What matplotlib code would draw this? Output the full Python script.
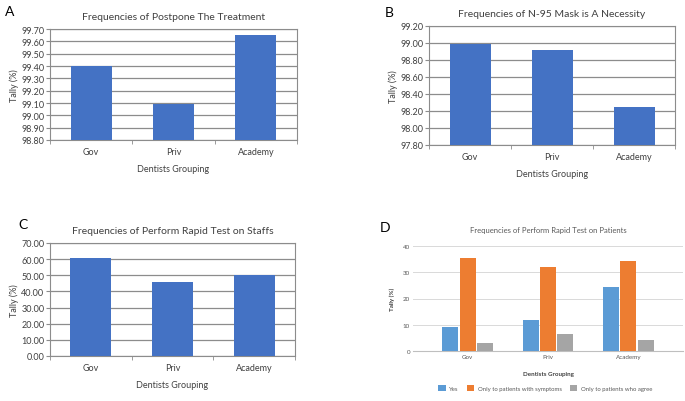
"""
Four panel bar charts: dentists grouping frequencies
"""
import numpy as np
import matplotlib.pyplot as plt

plt.rcParams['font.family'] = ['Lato', 'DejaVu Sans']

W, H = 685, 402
fig = plt.figure(figsize=(W/100, H/100), dpi=100)

groups = ['Gov', 'Priv', 'Academy']

postpone = [99.40, 99.095, 99.65]
mask = [98.99, 98.92, 98.25]
staff_test = [60.5, 46.0, 50.0]

patient_yes = [9.0, 11.7, 24.2]
patient_symptoms = [35.4, 32.0, 34.2]
patient_agree = [3.2, 6.6, 4.3]
patient_labels = ['Yes', 'Only to patients with symptoms', 'Only to patients who agree']

blue = '#4472C4'
grid_col = '#8c8c8c'
txt = '#404040'


def px_axes(x0, y0, x1, y1):
    # pixel box (left, top, right, bottom) -> axes
    return fig.add_axes([x0/W, 1 - y1/H, (x1-x0)/W, (y1-y0)/H])


def excel_bar(ax, vals, ylo, yhi, step, title):
    x = np.arange(len(groups))
    ax.bar(x, vals, width=0.5, color=blue, zorder=3)
    ax.set_xlim(-0.5, 2.5)
    ax.set_ylim(ylo, yhi)
    ax.set_yticks(np.arange(ylo, yhi + step/2, step))
    ax.set_yticklabels(['%.2f' % v for v in np.arange(ylo, yhi + step/2, step)])
    ax.set_xticks(x)
    ax.set_xticklabels(groups)
    ax.set_xticks([-0.5, 0.5, 1.5, 2.5], minor=True)
    ax.tick_params(axis='x', which='major', length=0, pad=5)
    ax.tick_params(axis='x', which='minor', length=3, color=grid_col)
    ax.tick_params(axis='y', length=3, color=grid_col, pad=1)
    ax.tick_params(labelsize=6.5, labelcolor=txt)
    ax.yaxis.grid(True, color=grid_col, linewidth=0.9, zorder=0)
    for s in ax.spines.values():
        s.set_color(grid_col)
        s.set_linewidth(0.8)
    ax.set_title(title, fontsize=7.5, color=txt, pad=7)
    ax.set_xlabel('Dentists Grouping', fontsize=6.5, color=txt, labelpad=6)
    ax.set_ylabel('Tally (%)', fontsize=6.5, color=txt, labelpad=2)


# Panel A
axA = px_axes(50, 30, 297, 141)
excel_bar(axA, postpone, 98.80, 99.70, 0.10, 'Frequencies of Postpone The Treatment')

# Panel B
axB = px_axes(429, 27, 675, 146)
excel_bar(axB, mask, 97.80, 99.20, 0.20, 'Frequencies of N-95 Mask is A Necessity')

# Panel C
axC = px_axes(50, 244, 295, 357)
excel_bar(axC, staff_test, 0, 70, 10, 'Frequencies of Perform Rapid Test on Staffs')

# Panel D
axD = px_axes(413, 247, 683, 352)
x = np.arange(len(groups))
bw = 0.2
cols = ['#5B9BD5', '#ED7D31', '#A5A5A5']
for i, (vals, lab) in enumerate(zip([patient_yes, patient_symptoms, patient_agree], patient_labels)):
    axD.bar(x + (i - 1)*(bw + 0.015), vals, width=bw, color=cols[i], label=lab, zorder=3)
axD.set_xlim(-0.68, 2.68)
axD.set_ylim(0, 40)
axD.set_yticks([0, 10, 20, 30, 40])
axD.set_xticks(x)
axD.set_xticklabels(groups)
axD.tick_params(length=0, labelsize=4.5, labelcolor='#595959', pad=2)
axD.yaxis.grid(True, color='#d9d9d9', linewidth=0.7, zorder=0)
for s in ['top', 'right', 'left']:
    axD.spines[s].set_visible(False)
axD.spines['bottom'].set_color('#bfbfbf')
axD.set_title('Frequencies of Perform Rapid Test on Patients', fontsize=5.5, color='#595959', pad=10)
axD.set_xlabel('Dentists Grouping', fontsize=4.5, color='#404040', fontweight='bold', labelpad=9)
axD.set_ylabel('Tally (%)', fontsize=4.5, color='#404040', fontweight='bold', labelpad=6)
axD.legend(loc='upper center', bbox_to_anchor=(0.49, -0.27), ncol=3, frameon=False,
           fontsize=4.3, handlelength=1.2, handleheight=1.2, columnspacing=1.4,
           handletextpad=0.6, labelcolor='#595959')

# Panel letters
fig.text(5/W, 1 - 12/H, 'A', fontsize=10, va='center', ha='left')
fig.text(385/W, 1 - 13/H, 'B', fontsize=10, va='center', ha='left')
fig.text(18/W, 1 - 225/H, 'C', fontsize=10, va='center', ha='left')
fig.text(380/W, 1 - 228/H, 'D', fontsize=10, va='center', ha='left')

fig.savefig('out.png', dpi=100, facecolor='white')
